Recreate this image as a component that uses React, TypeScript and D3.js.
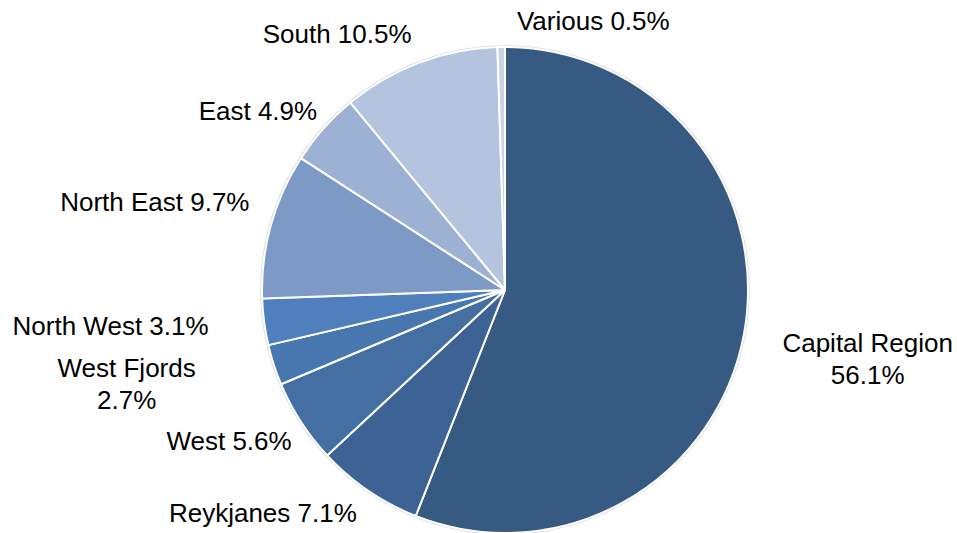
import React from "react";
import * as d3 from "d3";

const regions = ["Capital Region", "Reykjanes", "West", "West Fjords", "North West", "North East", "East", "South", "Various"];
const shares = [56.1, 7.1, 5.6, 2.7, 3.1, 9.7, 4.9, 10.5, 0.5];
const labelLines = [
  ["Capital Region", "56.1%"],
  ["Reykjanes 7.1%"],
  ["West 5.6%"],
  ["West Fjords", "2.7%"],
  ["North West 3.1%"],
  ["North East 9.7%"],
  ["East 4.9%"],
  ["South 10.5%"],
  ["Various 0.5%"],
];
const colors = ["#375A83", "#3C6393", "#436FA2", "#4777AE", "#4F80BD", "#7D9AC6", "#9CB1D4", "#B4C3DE", "#C9D4E9"];
// label nudges from the point on the mid-angle ray (layout tuning)
const labelNudge: [number, number][] = [
  [68, 13], [-73, -25], [-24, -12], [-93, 1], [-97, -3], [-61, -8], [-23, 20], [-62, 25], [93, 31],
];

const W = 957, H = 533;
const cx = 505, cy = 290, R = 243, L = 300;
const fs = 26, lh = 32;

export default function App() {
  const data = regions.map((r, i) => ({ r, v: shares[i], i }));
  const pie = d3.pie<any>().value((d) => d.v).sort(null);
  const arcs = pie(data);
  const arc = d3.arc<any>().innerRadius(0).outerRadius(R);
  return (
    <svg width={W} height={H} style={{ position: "absolute", left: 0, top: 0, background: "#fff" }}
      fontFamily="'Liberation Sans', Arial, sans-serif">
      <g transform={`translate(${cx},${cy})`}>
        <circle r={R + 1} fill="none" stroke="#d9d9d9" strokeWidth={1.5} />
        {arcs.map((a, k) => (
          <path key={k} d={arc(a) as string} fill={colors[k]} stroke="#fff" strokeWidth={2} strokeLinejoin="round" />
        ))}
      </g>
      {arcs.map((a, k) => {
        const mid = (a.startAngle + a.endAngle) / 2;
        const x = cx + L * Math.sin(mid) + labelNudge[k][0];
        const y = cy - L * Math.cos(mid) + labelNudge[k][1];
        const lines = labelLines[k];
        return (
          <text key={k} x={x} textAnchor="middle" fontSize={fs} fill="#000">
            {lines.map((t, j) => (
              <tspan key={j} x={x} y={y + (j - (lines.length - 1) / 2) * lh + 0.35 * fs}>{t}</tspan>
            ))}
          </text>
        );
      })}
    </svg>
  );
}
